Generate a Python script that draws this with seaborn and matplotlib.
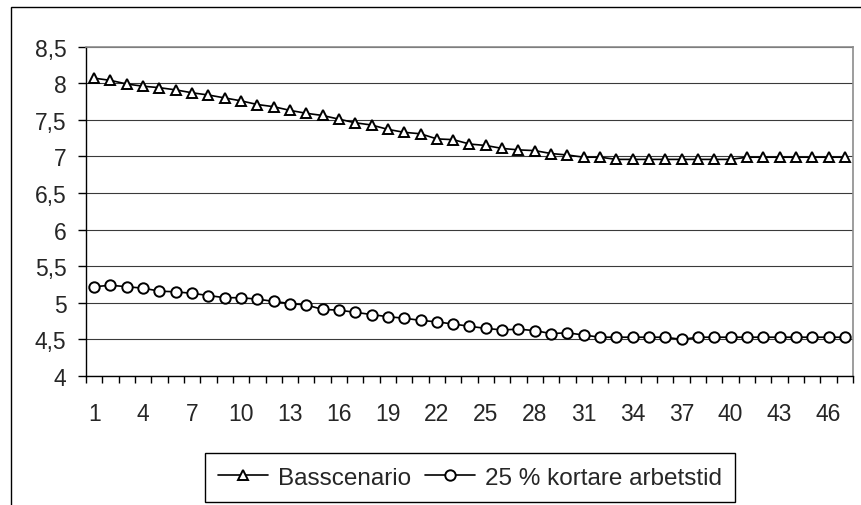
import numpy as np
import pandas as pd
import matplotlib
matplotlib.use("Agg")
import matplotlib.pyplot as plt
import matplotlib.patches as mpatches
from matplotlib.ticker import FixedLocator
import seaborn as sns

sns.set_style("white")
plt.rcParams["font.family"] = ["Liberation Sans", "DejaVu Sans"]
plt.rcParams["font.size"] = 16

# ── Data ───────────────────────────────────────────────────────────────────────
periods = list(range(1, 48))
basscenario = [8.07, 8.04, 7.99, 7.96, 7.94, 7.91, 7.87, 7.84, 7.80, 7.76,
               7.71, 7.68, 7.63, 7.59, 7.56, 7.51, 7.46, 7.43, 7.37, 7.33,
               7.31, 7.24, 7.23, 7.17, 7.15, 7.11, 7.09, 7.08, 7.04, 7.02,
               6.99, 6.99, 6.96, 6.96, 6.96, 6.96, 6.96, 6.96, 6.96, 6.96,
               6.99, 6.99, 6.99, 6.99, 6.99, 6.99, 6.99]
kortare = [5.22, 5.24, 5.22, 5.20, 5.16, 5.15, 5.13, 5.10, 5.07, 5.07,
           5.05, 5.02, 4.99, 4.97, 4.91, 4.90, 4.87, 4.84, 4.81, 4.79,
           4.76, 4.74, 4.71, 4.68, 4.65, 4.63, 4.64, 4.62, 4.58, 4.59,
           4.56, 4.53, 4.53, 4.53, 4.53, 4.53, 4.50, 4.53, 4.53, 4.53,
           4.53, 4.53, 4.53, 4.53, 4.53, 4.53, 4.53]
series_names = ["Basscenario", "25 % kortare arbetstid"]
y_ticks = [4, 4.5, 5, 5.5, 6, 6.5, 7, 7.5, 8, 8.5]
x_label_ticks = list(range(1, 48, 3))

df = pd.DataFrame({"period": periods,
                   series_names[0]: basscenario,
                   series_names[1]: kortare})

W, H = 862, 506
fig = plt.figure(figsize=(W / 100, H / 100), dpi=100)
ax = fig.add_axes([86 / W, 1 - 377 / H, (853 - 86) / W, (377 - 47.7) / H])

style = dict(color="black", lw=1.2, mfc="white", mec="black", mew=1.4)
sns.lineplot(data=df, x="period", y=series_names[0], marker="^", ms=7.5,
             label=series_names[0], ax=ax, **style)
sns.lineplot(data=df, x="period", y=series_names[1], marker="o", ms=7.5,
             label=series_names[1], ax=ax, **style)

# axes
ax.set_xlim(0.5, 47.5)
ax.set_ylim(4, 8.5)
ax.set_xlabel("")
ax.set_ylabel("")
ax.set_yticks(y_ticks)
ax.set_yticklabels([f"{v:g}".replace(".", ",") for v in y_ticks])
ax.set_xticks(x_label_ticks)
ax.set_xticklabels([str(v) for v in x_label_ticks])
ax.xaxis.set_minor_locator(FixedLocator(np.arange(0.5, 48, 1)))
ax.tick_params(axis="x", which="major", length=0, pad=19, labelsize=16.5)
ax.tick_params(axis="x", which="minor", length=5, width=1, color="black",
               direction="out", bottom=True)
ax.tick_params(axis="y", which="major", length=6, width=1, color="black",
               direction="out", pad=8, labelsize=16.5, left=True)

ax.yaxis.grid(True, color="#3a3a3a", lw=0.8)
ax.xaxis.grid(False)
for side in ("left", "bottom"):
    ax.spines[side].set_color("black")
    ax.spines[side].set_linewidth(1.0)
for side in ("top", "right"):
    ax.spines[side].set_visible(True)
    ax.spines[side].set_color("#8c8c8c")
    ax.spines[side].set_linewidth(1.2)

leg = ax.legend(loc="center", bbox_to_anchor=(470 / W, 1 - 478.7 / H),
                bbox_transform=fig.transFigure, ncol=2, frameon=True,
                fancybox=False, edgecolor="black", framealpha=1,
                handlelength=2.05, handletextpad=0.4, columnspacing=0.6,
                markerscale=1.0, fontsize=17.5, borderpad=0.55,
                borderaxespad=0)
leg.get_frame().set_linewidth(1.0)

# outer chart frame (runs past the right and bottom edges)
fig.patches.append(mpatches.Rectangle((11 / W, -0.2), 1.5, 1 - 8 / H + 0.2,
                                      transform=fig.transFigure, fill=False,
                                      ec="black", lw=1.0))

plt.savefig("out.png", dpi=100)
plt.close()
